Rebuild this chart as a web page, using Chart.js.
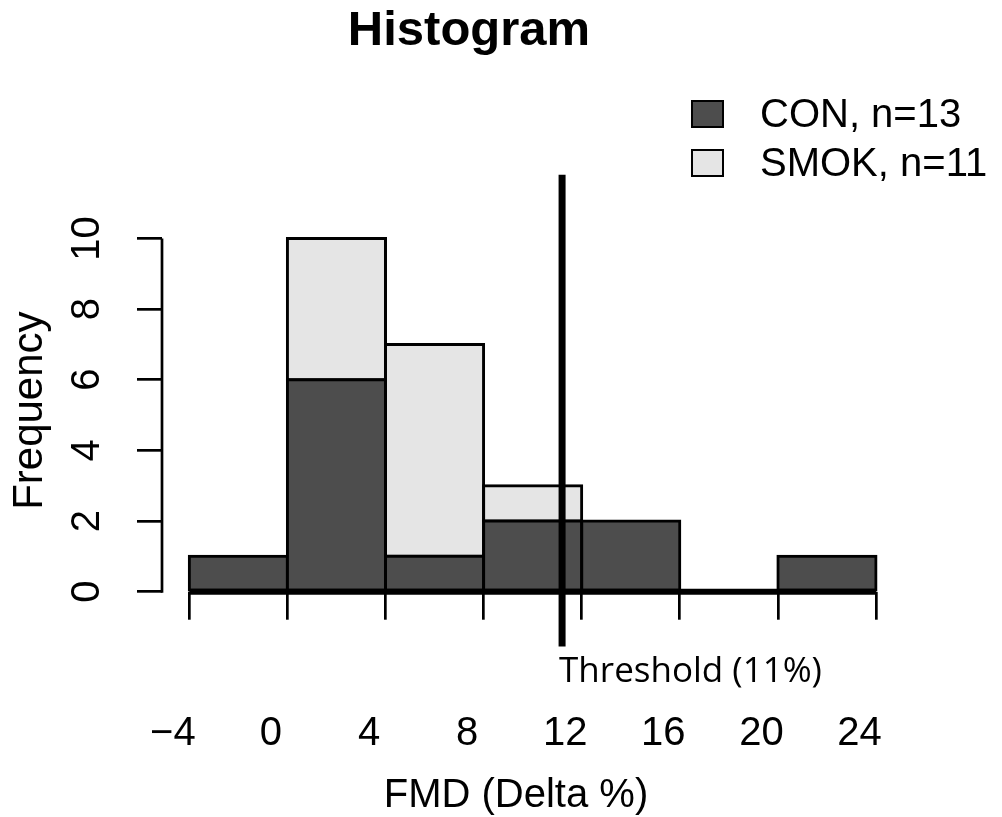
<!DOCTYPE html>
<html lang="en">
<head>
  <meta charset="UTF-8" />
  <title>Histogram</title>
  <script src="https://cdn.jsdelivr.net/npm/chart.js"></script>
  <style>
    html, body {
      margin: 0;
      padding: 0;
      background: #fff;
    }
    .chart-box {
      position: relative;
      width: 1002px;
      height: 817px;
    }
  </style>
</head>
<body>

  <div class="chart-box"><canvas id="histChart"></canvas></div>

  <script>
    // bins are 4 units wide, from -4 to 24
    const binCenters = [-2, 2, 6, 10, 14, 18, 22];
    const conCounts  = [1, 6, 1, 2, 2, 0, 1];   // CON, n=13
    const smokCounts = [0, 4, 6, 1, 0, 0, 0];   // SMOK, n=11 (stacked on top of CON)
    const xTicks = [-4, 0, 4, 8, 12, 16, 20, 24];
    const yTicks = [0, 2, 4, 6, 8, 10];
    const legendLabels = ['CON, n=13', 'SMOK, n=11'];
    const thresholdPos = 11.2;
    const thresholdTop = 11.8;
    const thresholdBottom = -1.55;
    const thresholdLabel = 'Threshold (11%)';

    const CON_COLOR = '#4d4d4d';
    const SMOK_COLOR = '#e5e5e5';
    const FONT = '"Liberation Sans", Arial, Helvetica, sans-serif';
    const X_MIN = -5.113, X_MAX = 26.528;
    const LABEL_SHIFT = 0.67;   // tick labels sit a bit left of their ticks in the original
    const BAR_BORDER = 3;

    Chart.defaults.font.family = FONT;
    Chart.defaults.color = '#000';

    const toPoints = counts => binCenters.map((c, i) => ({ x: c, y: counts[i] ? counts[i] : null }));
    const minusLabel = v => (v < 0 ? '\u2212' + Math.abs(v) : String(v));

    const extras = {
      id: 'extras',
      afterDatasetsDraw(chart) {
        const { ctx, chartArea, scales: { x, y } } = chart;
        ctx.save();
        ctx.strokeStyle = '#000';

        // y axis line, only over the tick range
        ctx.lineWidth = 2.7;
        ctx.beginPath();
        ctx.moveTo(chartArea.left, y.getPixelForValue(yTicks[0]) + 1);
        ctx.lineTo(chartArea.left, y.getPixelForValue(yTicks[yTicks.length - 1]));
        ctx.stroke();

        // heavy base line at zero
        ctx.lineWidth = 6;
        ctx.beginPath();
        ctx.moveTo(x.getPixelForValue(xTicks[0]), y.getPixelForValue(0));
        ctx.lineTo(x.getPixelForValue(xTicks[xTicks.length - 1]), y.getPixelForValue(0));
        ctx.stroke();

        // threshold marker
        const tx = x.getPixelForValue(thresholdPos);
        ctx.lineWidth = 7;
        ctx.beginPath();
        ctx.moveTo(tx, y.getPixelForValue(thresholdTop));
        ctx.lineTo(tx, y.getPixelForValue(thresholdBottom));
        ctx.stroke();

        ctx.fillStyle = '#000';
        ctx.font = '35px "Open Sans", sans-serif';
        ctx.textAlign = 'left';
        ctx.textBaseline = 'alphabetic';
        ctx.fillText(thresholdLabel, tx - 3, y.getPixelForValue(0) + 90);
        ctx.restore();
      },
      afterDraw(chart) {
        const { ctx } = chart;
        ctx.save();

        // x axis title
        ctx.fillStyle = '#000';
        ctx.font = '40px ' + FONT;
        ctx.textAlign = 'center';
        ctx.textBaseline = 'alphabetic';
        ctx.fillText('FMD (Delta %)', 516, 806.7);

        // legend
        const colors = [CON_COLOR, SMOK_COLOR];
        ctx.textAlign = 'left';
        legendLabels.forEach((label, i) => {
          const top = 101 + i * 49;
          ctx.fillStyle = colors[i];
          ctx.fillRect(692, top, 31, 26);
          ctx.lineWidth = 2;
          ctx.strokeStyle = '#000';
          ctx.strokeRect(692, top, 31, 26);
          ctx.fillStyle = '#000';
          ctx.fillText(label, 760, top + 25.7);
        });
        ctx.restore();
      }
    };

    const barStyle = {
      borderColor: '#000',
      borderWidth: BAR_BORDER,
      borderSkipped: false,
      inflateAmount: BAR_BORDER / 2,
      barPercentage: 1,
      categoryPercentage: 1
    };

    new Chart(document.getElementById('histChart'), {
      type: 'bar',
      data: {
        datasets: [
          { label: legendLabels[0], data: toPoints(conCounts), backgroundColor: CON_COLOR, ...barStyle },
          { label: legendLabels[1], data: toPoints(smokCounts), backgroundColor: SMOK_COLOR, ...barStyle }
        ]
      },
      options: {
        animation: false,
        responsive: true,
        maintainAspectRatio: false,
        layout: { padding: { top: 0, left: 0, right: 64, bottom: 0 } },
        scales: {
          x: {
            type: 'linear',
            stacked: true,
            offset: false,
            min: X_MIN,
            max: X_MAX,
            weight: 0,
            afterBuildTicks: s => { s.ticks = xTicks.map(v => ({ value: v })); },
            afterFit: s => { s.height = 28; },
            border: { display: false },
            grid: { offset: false, drawOnChartArea: false, drawTicks: true, tickLength: 28, color: '#000', lineWidth: 2.7 },
            ticks: { display: false }
          },
          xLabels: {
            type: 'linear',
            position: 'bottom',
            offset: false,
            min: X_MIN + LABEL_SHIFT,
            max: X_MAX + LABEL_SHIFT,
            weight: 1,
            afterBuildTicks: s => { s.ticks = xTicks.map(v => ({ value: v })); },
            afterFit: s => { s.height = 197.3; },
            border: { display: false },
            grid: { display: false, drawTicks: false, offset: false },
            ticks: {
              autoSkip: false,
              maxRotation: 0,
              padding: 90.7,
              font: { size: 40 },
              callback: v => minusLabel(v)
            }
          },
          y: {
            type: 'linear',
            stacked: true,
            min: 0,
            max: 10.25,
            afterBuildTicks: s => { s.ticks = yTicks.map(v => ({ value: v })); },
            afterFit: s => { s.width = 162; },
            border: { display: false },
            grid: { drawOnChartArea: false, drawTicks: true, tickLength: 25, color: '#000', lineWidth: 2.7 },
            ticks: {
              autoSkip: false,
              minRotation: 90,
              maxRotation: 90,
              crossAlign: 'center',
              padding: 26.65,
              font: { size: 40 }
            },
            title: {
              display: true,
              text: 'Frequency',
              font: { size: 42 },
              padding: { top: 5.2, bottom: 0 }
            }
          }
        },
        plugins: {
          legend: { display: false },
          tooltip: { enabled: false },
          title: {
            display: true,
            text: 'Histogram',
            font: { size: 49, weight: 'bold' },
            color: '#000',
            padding: { top: 1.9, bottom: 168.9 }
          }
        }
      },
      plugins: [extras]
    });
  </script>

</body>
</html>
